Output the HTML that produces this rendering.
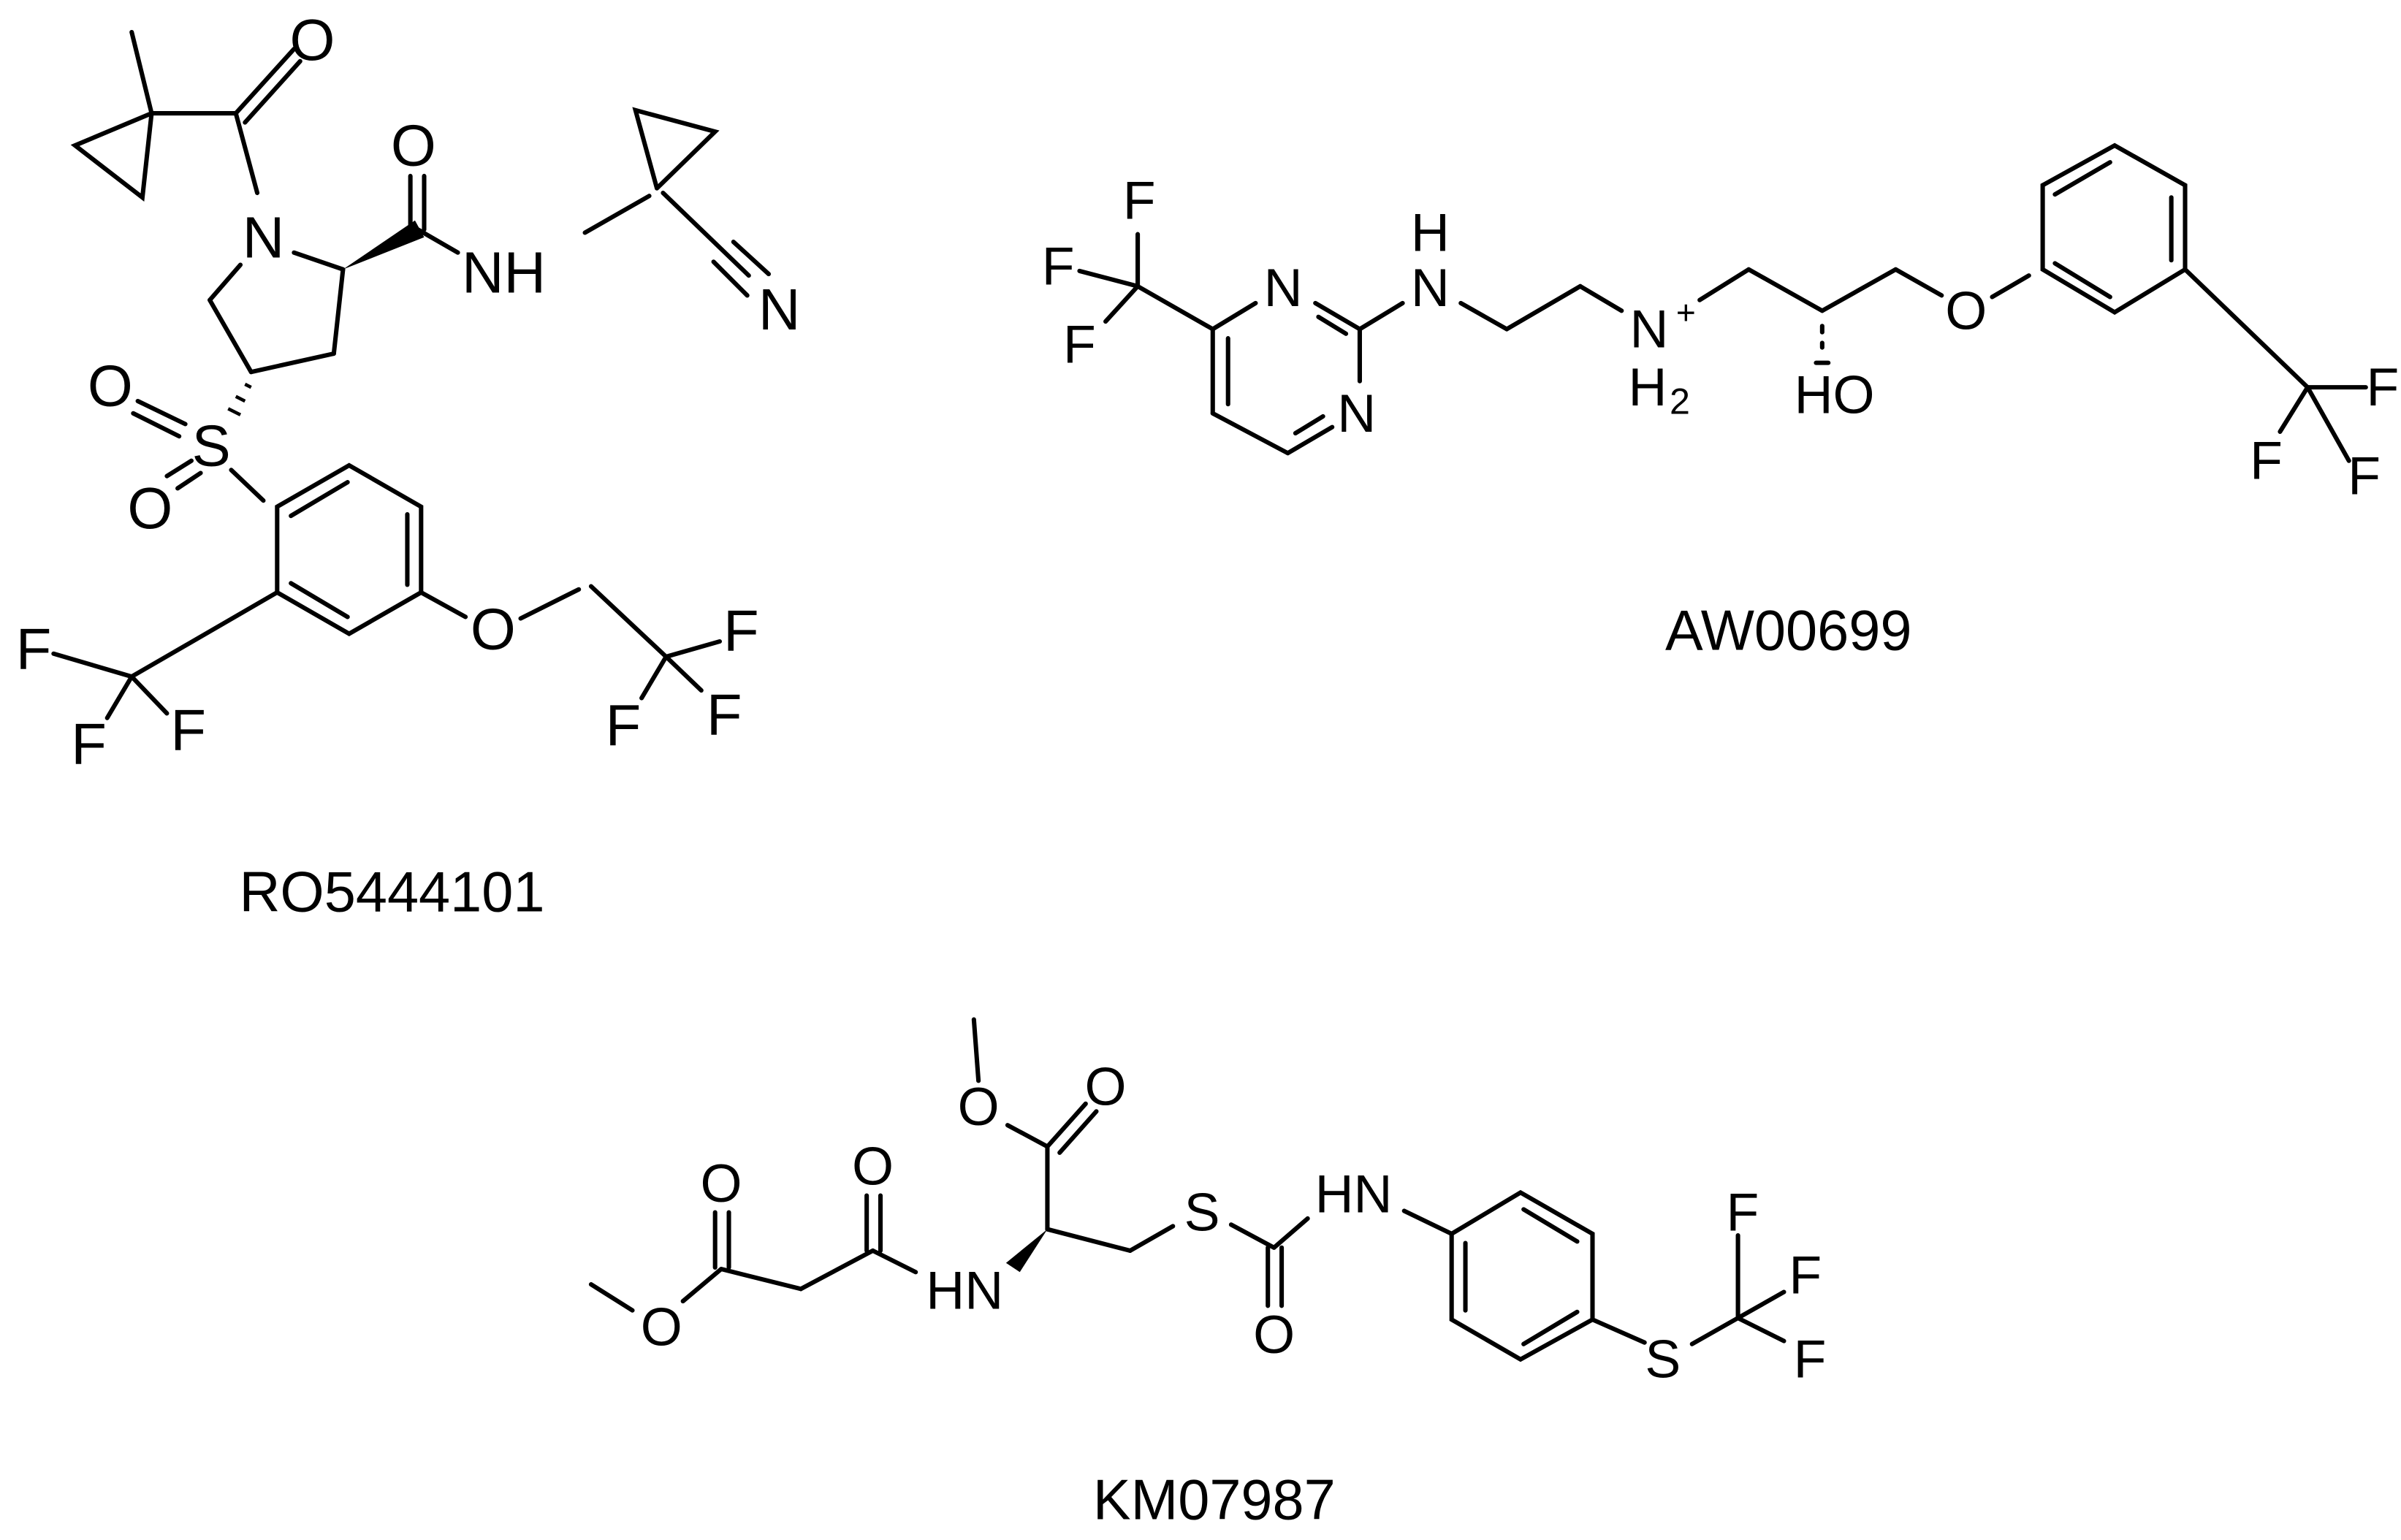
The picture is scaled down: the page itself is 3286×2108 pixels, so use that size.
<!DOCTYPE html>
<html><head><meta charset="utf-8"><style>
html,body{margin:0;padding:0;background:#fff;}
svg{display:block;}
text{font-family:"Liberation Sans",Arial,sans-serif;fill:#000;text-anchor:middle;dominant-baseline:central;}
</style></head><body>
<svg width="3286" height="2108" viewBox="0 0 1568 1006" preserveAspectRatio="none" xmlns="http://www.w3.org/2000/svg">
<rect width="1568" height="1006" fill="#fff"/>
<g stroke="#000" stroke-width="2.9" fill="none" stroke-linecap="round">
<!-- Molecule 1 -->
<line x1="86" y1="21" x2="99" y2="74"/>
<polyline points="99,74 49,95 93,129 99,74"/>
<line x1="99" y1="74" x2="154" y2="74"/>
<line x1="154" y1="74" x2="192" y2="32"/>
<line x1="160" y1="80" x2="196" y2="40"/>
<line x1="154" y1="74" x2="168" y2="126"/>
<line x1="192" y1="165" x2="224" y2="176"/>
<line x1="157" y1="173" x2="137" y2="196"/>
<line x1="137" y1="196" x2="164" y2="243"/>
<line x1="164" y1="243" x2="218" y2="231"/>
<line x1="218" y1="231" x2="224" y2="176"/>
<line x1="268" y1="150" x2="268" y2="115"/>
<line x1="277" y1="150" x2="277" y2="115"/>
<line x1="273" y1="150" x2="299" y2="165"/>
<line x1="382" y1="152" x2="424" y2="128"/>
<polyline points="429,123 415,72 467,86 429,123"/>
<line x1="433" y1="126" x2="489" y2="180"/>
<line x1="466" y1="171" x2="488" y2="193"/>
<line x1="479" y1="158" x2="502" y2="179"/>
<line x1="90" y1="262" x2="121" y2="277"/>
<line x1="87" y1="270" x2="117" y2="285"/>
<line x1="109" y1="311" x2="125" y2="301"/>
<line x1="116" y1="319" x2="131" y2="309"/>
<line x1="151" y1="307" x2="172" y2="327"/>
<polygon points="181,331 228,304 275,331 275,387 228,414 181,387"/>
<line x1="190" y1="337" x2="227" y2="315"/>
<line x1="266" y1="336" x2="266" y2="382"/>
<line x1="190" y1="381" x2="227" y2="403"/>
<line x1="181" y1="387" x2="86" y2="442"/>
<line x1="86" y1="442" x2="35" y2="427"/>
<line x1="86" y1="442" x2="70" y2="469"/>
<line x1="86" y1="442" x2="109" y2="466"/>
<line x1="275" y1="387" x2="304" y2="403"/>
<line x1="340" y1="404" x2="378" y2="385"/>
<line x1="386" y1="383" x2="435" y2="429"/>
<line x1="435" y1="429" x2="470" y2="419"/>
<line x1="435" y1="429" x2="458" y2="451"/>
<line x1="435" y1="429" x2="419" y2="456"/>
<!-- Molecule 2 -->
<line x1="743" y1="187" x2="743" y2="153"/>
<line x1="743" y1="187" x2="705" y2="177"/>
<line x1="743" y1="187" x2="722" y2="210"/>
<line x1="792" y1="215" x2="743" y2="187"/>
<line x1="792" y1="215" x2="820" y2="198"/>
<line x1="859" y1="198" x2="888" y2="215"/>
<line x1="861" y1="207" x2="879" y2="218"/>
<line x1="888" y1="215" x2="888" y2="249"/>
<line x1="870" y1="279" x2="841" y2="296"/>
<line x1="864" y1="272" x2="846" y2="283"/>
<line x1="841" y1="296" x2="792" y2="270"/>
<line x1="792" y1="270" x2="792" y2="215"/>
<line x1="802" y1="264" x2="802" y2="221"/>
<line x1="888" y1="215" x2="916" y2="198"/>
<line x1="954" y1="198" x2="984" y2="215"/>
<line x1="984" y1="215" x2="1032" y2="187"/>
<line x1="1032" y1="187" x2="1059" y2="203"/>
<line x1="1110" y1="196" x2="1142" y2="176"/>
<line x1="1142" y1="176" x2="1190" y2="203"/>
<line x1="1190" y1="203" x2="1238" y2="176"/>
<line x1="1238" y1="176" x2="1268" y2="193"/>
<line x1="1301" y1="194" x2="1325" y2="180"/>
<polygon points="1334,176 1334,121 1381,95 1427,121 1427,176 1381,204"/>
<line x1="1342" y1="127" x2="1378" y2="106"/>
<line x1="1418" y1="129" x2="1418" y2="170"/>
<line x1="1342" y1="172" x2="1378" y2="194"/>
<line x1="1427" y1="176" x2="1507" y2="253"/>
<line x1="1507" y1="253" x2="1545" y2="253"/>
<line x1="1507" y1="253" x2="1489" y2="282"/>
<line x1="1507" y1="253" x2="1534" y2="301"/>
<line x1="1190" y1="213" x2="1190" y2="217"/>
<line x1="1190" y1="224" x2="1190" y2="227"/>
<line x1="1186" y1="237" x2="1194" y2="237"/>
<!-- Molecule 3 -->
<line x1="386" y1="839" x2="413" y2="856"/>
<line x1="446" y1="850" x2="471" y2="829"/>
<line x1="467" y1="828" x2="467" y2="792"/>
<line x1="476" y1="828" x2="476" y2="792"/>
<line x1="471" y1="829" x2="523" y2="842"/>
<line x1="523" y1="842" x2="570" y2="817"/>
<line x1="566" y1="817" x2="566" y2="781"/>
<line x1="575" y1="817" x2="575" y2="781"/>
<line x1="570" y1="817" x2="598" y2="831"/>
<line x1="684" y1="803" x2="684" y2="749"/>
<line x1="684" y1="749" x2="709" y2="721"/>
<line x1="692" y1="753" x2="716" y2="726"/>
<line x1="684" y1="749" x2="658" y2="735"/>
<line x1="639" y1="706" x2="636" y2="666"/>
<line x1="684" y1="803" x2="738" y2="817"/>
<line x1="738" y1="817" x2="766" y2="801"/>
<line x1="804" y1="800" x2="832" y2="815"/>
<line x1="828" y1="815" x2="828" y2="853"/>
<line x1="837" y1="815" x2="837" y2="853"/>
<line x1="832" y1="815" x2="854" y2="796"/>
<line x1="917" y1="791" x2="948" y2="806"/>
<polygon points="948,806 993,779 1040,806 1040,862 993,888 948,862"/>
<line x1="995" y1="790" x2="1030" y2="811"/>
<line x1="957" y1="812" x2="957" y2="856"/>
<line x1="995" y1="878" x2="1030" y2="857"/>
<line x1="1040" y1="862" x2="1074" y2="877"/>
<line x1="1105" y1="878" x2="1135" y2="861"/>
<line x1="1135" y1="861" x2="1135" y2="807"/>
<line x1="1135" y1="861" x2="1165" y2="844"/>
<line x1="1135" y1="861" x2="1165" y2="876"/>
</g>
<!-- wedges -->
<polygon points="224,176 271,144 277,155" fill="#000"/>
<polygon points="684,803 657,825 666,831" fill="#000"/>
<g stroke="#000" stroke-width="2.2">
<line x1="160" y1="251" x2="164" y2="253"/>
<line x1="154" y1="259" x2="160" y2="262"/>
<line x1="149" y1="267" x2="157" y2="271"/>
</g>
<g font-size="38">
<text x="204" y="26">O</text>
<text x="172" y="155">N</text>
<text x="270" y="95">O</text>
<text x="329" y="178">NH</text>
<text x="509" y="202">N</text>
<text x="138" y="291">S</text>
<text x="72" y="252">O</text>
<text x="98" y="332">O</text>
<text x="22" y="424">F</text>
<text x="58" y="486">F</text>
<text x="123" y="477">F</text>
<text x="322" y="411">O</text>
<text x="484" y="412">F</text>
<text x="473" y="467">F</text>
<text x="407" y="474">F</text>
</g>
<g font-size="35">
<text x="744" y="131">F</text>
<text x="691" y="174">F</text>
<text x="705" y="225">F</text>
<text x="838" y="188">N</text>
<text x="886" y="270">N</text>
<text x="934" y="152">H</text>
<text x="934" y="188">N</text>
<text x="1077" y="215">N</text>
<text x="1101" y="204" font-size="22">+</text>
<text x="1076" y="253">H</text>
<text x="1097" y="262" font-size="24">2</text>
<text x="1198" y="258">HO</text>
<text x="1284" y="203">O</text>
<text x="1556" y="253">F</text>
<text x="1480" y="301">F</text>
<text x="1544" y="311">F</text>
<text x="432" y="867">O</text>
<text x="471" y="773">O</text>
<text x="570" y="762">O</text>
<text x="630" y="843">HN</text>
<text x="722" y="710">O</text>
<text x="639" y="723">O</text>
<text x="785" y="792">S</text>
<text x="832" y="872">O</text>
<text x="884" y="780">HN</text>
<text x="1086" y="888">S</text>
<text x="1138" y="792">F</text>
<text x="1179" y="833">F</text>
<text x="1182" y="888">F</text>
</g>
<g font-size="37">
<text x="256" y="583">RO5444101</text>
<text x="1168" y="412">AW00699</text>
<text x="793" y="980">KM07987</text>
</g>
</svg>
</body></html>
